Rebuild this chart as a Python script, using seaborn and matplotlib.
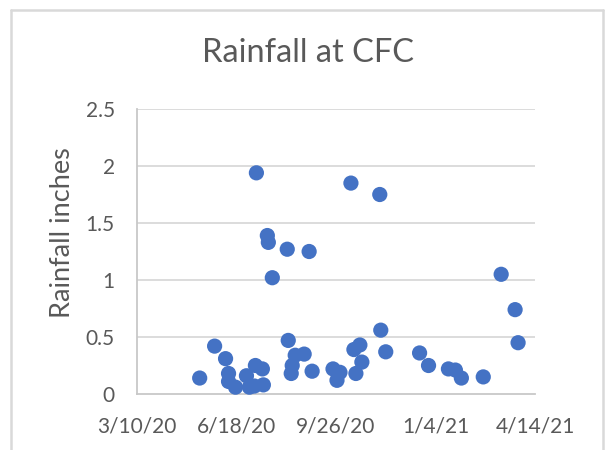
import matplotlib
matplotlib.use("Agg")
import matplotlib.pyplot as plt
from matplotlib.lines import Line2D
import seaborn as sns
import pandas as pd

dates = [
    "2020-05-12", "2020-05-27", "2020-06-07", "2020-06-10", "2020-06-10",
    "2020-06-17", "2020-06-28", "2020-07-01", "2020-07-06", "2020-07-07",
    "2020-07-08", "2020-07-14", "2020-07-15", "2020-07-19", "2020-07-20",
    "2020-07-24", "2020-08-08", "2020-08-09", "2020-08-12", "2020-08-13",
    "2020-08-16", "2020-08-25", "2020-08-30", "2020-09-02", "2020-09-23",
    "2020-09-27", "2020-09-30", "2020-10-11", "2020-10-14", "2020-10-16",
    "2020-10-20", "2020-10-22", "2020-11-09", "2020-11-10", "2020-11-15",
    "2020-12-19", "2020-12-28", "2021-01-17", "2021-01-24", "2021-01-30",
    "2021-02-21", "2021-03-11", "2021-03-25", "2021-03-28",
]
rain = [
    0.14, 0.42, 0.31, 0.18, 0.11,
    0.06, 0.16, 0.06, 0.07, 0.25,
    1.94, 0.22, 0.08, 1.39, 1.33,
    1.02, 1.27, 0.47, 0.18, 0.25,
    0.34, 0.35, 1.25, 0.20, 0.22,
    0.12, 0.19, 1.85, 0.39, 0.18,
    0.43, 0.28, 1.75, 0.56, 0.37,
    0.36, 0.25, 0.22, 0.21, 0.14,
    0.15, 1.05, 0.74, 0.45,
]
x_ticks = ["2020-03-10", "2020-06-18", "2020-09-26", "2021-01-04", "2021-04-14"]
x_tick_labels = ["3/10/20", "6/18/20", "9/26/20", "1/4/21", "4/14/21"]
y_ticks = [0, 0.5, 1, 1.5, 2, 2.5]
y_tick_labels = ["0", "0.5", "1", "1.5", "2", "2.5"]

df = pd.DataFrame({"date": pd.to_datetime(dates), "rain": rain})

sns.set_theme(style="white")
plt.rcParams["font.family"] = ["Lato", "DejaVu Sans"]

W, H = 605, 450
fig = plt.figure(figsize=(W / 100, H / 100), dpi=100)
ax = fig.add_axes([137 / W, 1 - 394 / H, (535 - 137) / W, (394 - 109) / H])

txt = "#595959"
grid = "#D9D9D9"

sns.scatterplot(data=df, x="date", y="rain", ax=ax, color="#4472C4",
                s=120, edgecolor="none", zorder=3)

xt = pd.to_datetime(x_ticks)
ax.set_xlim(xt[0], xt[-1])
ax.set_xticks(xt)
ax.set_xticklabels(x_tick_labels)
ax.set_ylim(0, 2.5)
ax.set_yticks(y_ticks)
ax.set_yticklabels(y_tick_labels)
ax.tick_params(axis="both", length=0, labelsize=15, labelcolor=txt)
ax.tick_params(axis="x", pad=16)
ax.tick_params(axis="y", pad=16)
ax.set_xlabel("")
ax.set_ylabel("")

for y in y_ticks[1:]:
    ax.axhline(y, color=grid, lw=1.3, zorder=1)
for side in ["top", "right"]:
    ax.spines[side].set_visible(False)
for side in ["left", "bottom"]:
    ax.spines[side].set_color("#C8C8C8")
    ax.spines[side].set_linewidth(1.3)
for c in ax.collections:
    c.set_clip_on(False)

fig.text(308 / W, 1 - 53 / H, "Rainfall at CFC", ha="center", va="center",
         fontsize=23.5, color=txt)
fig.text(62 / W, 1 - 233 / H, "Rainfall inches", ha="center", va="center",
         rotation=90, fontsize=19.5, color=txt)

bc = "#D9D9D9"
fig.add_artist(Line2D([11 / W, 11 / W], [0, 1 - 10 / H], transform=fig.transFigure, color=bc, lw=1.8))
fig.add_artist(Line2D([11 / W, 603 / W], [1 - 10 / H, 1 - 10 / H], transform=fig.transFigure, color=bc, lw=1.8))
fig.add_artist(Line2D([603 / W, 603 / W], [0, 1 - 10 / H], transform=fig.transFigure, color=bc, lw=1.8))

fig.savefig("out.png", dpi=100)
